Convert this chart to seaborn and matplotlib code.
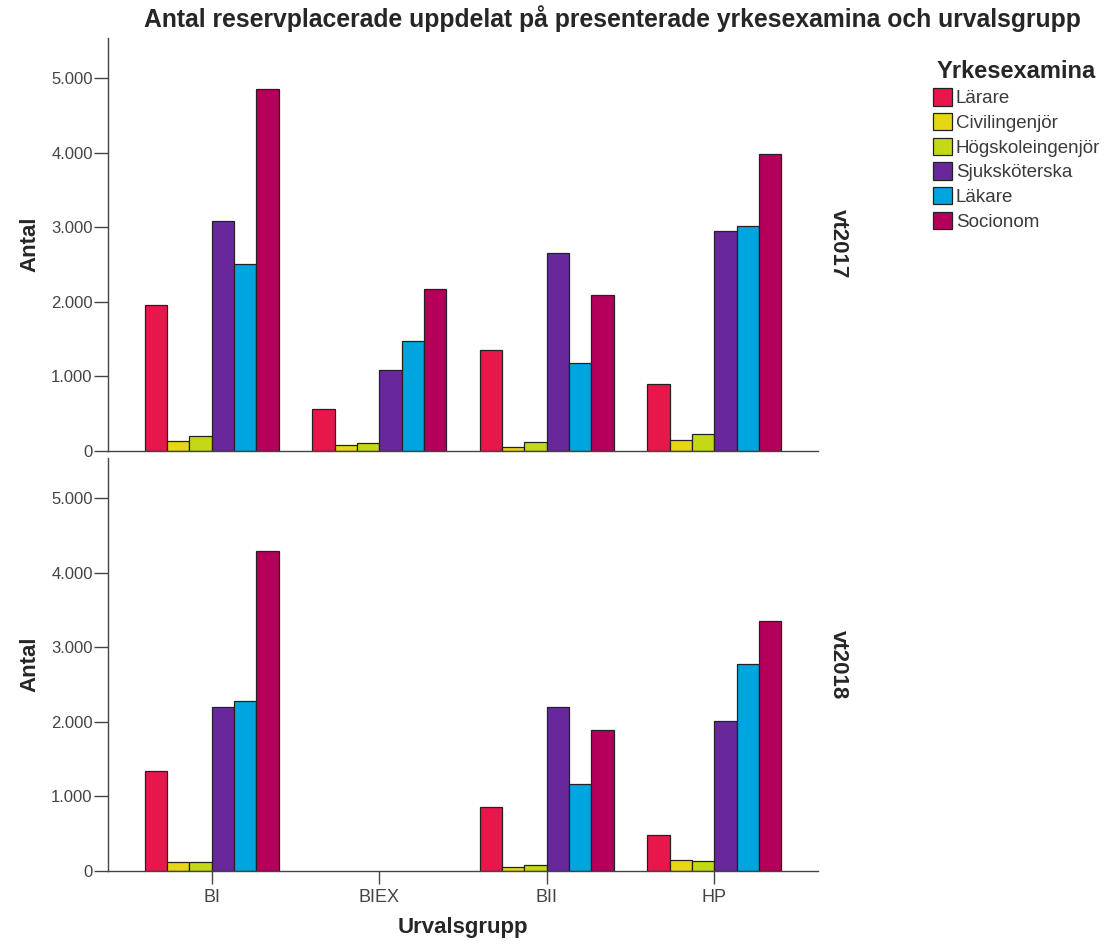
import numpy as np
import pandas as pd
import matplotlib
matplotlib.use("Agg")
import matplotlib.pyplot as plt
from matplotlib.ticker import FuncFormatter
import seaborn as sns

# data
grupper = ["BI", "BIEX", "BII", "HP"]
yrken = ["Lärare", "Civilingenjör", "Högskoleingenjör", "Sjuksköterska", "Läkare", "Socionom"]
terminer = ["vt2017", "vt2018"]

# rows = urvalsgrupp, cols = yrke
vt2017 = [
    [1955, 134, 196, 3080, 2509, 4853],
    [567, 80, 112, 1080, 1482, 2174],
    [1353, 58, 116, 2656, 1179, 2089],
    [893, 152, 223, 2955, 3013, 3987],
]
vt2018 = [
    [1341, 126, 126, 2206, 2274, 4287],
    [np.nan, np.nan, np.nan, np.nan, np.nan, np.nan],
    [852, 58, 76, 2197, 1170, 1897],
    [489, 143, 139, 2018, 2776, 3350],
]

farger = ["#E8174B", "#E6D615", "#C5D816", "#68279B", "#00A5DF", "#B5005B"]

rows = []
for termin, tab in zip(terminer, [vt2017, vt2018]):
    for g, vals in zip(grupper, tab):
        for y, v in zip(yrken, vals):
            rows.append({"Termin": termin, "Urvalsgrupp": g, "Yrkesexamina": y, "Antal": v})
df = pd.DataFrame(rows).dropna()

sns.set_style("white")
plt.rcParams["font.family"] = ["Liberation Sans", "DejaVu Sans"]

W, H = 1116, 946
fig = plt.figure(figsize=(W / 100, H / 100), dpi=100)

def px_axes(x0, x1, y0, y1):
    return fig.add_axes([x0 / W, 1 - y1 / H, (x1 - x0) / W, (y1 - y0) / H])

ax_top = px_axes(108, 818, 38, 451)
ax_bot = px_axes(108, 818, 458, 871)

fmt = FuncFormatter(lambda v, p: f"{int(v):,}".replace(",", "."))

for ax, termin in zip([ax_top, ax_bot], terminer):
    sns.barplot(data=df[df.Termin == termin], x="Urvalsgrupp", y="Antal",
                hue="Yrkesexamina", order=grupper, hue_order=yrken,
                palette=farger, edgecolor="#222222", linewidth=0.9,
                width=0.8, saturation=1, ax=ax)
    ax.set_xlim(-0.62, 3.62)
    ax.set_ylim(0, 5540)
    ax.set_yticks(range(0, 6000, 1000))
    ax.yaxis.set_major_formatter(fmt)
    ax.tick_params(axis="y", length=10, width=1, color="#444444", labelsize=12,
                   labelcolor="#444444", left=True, pad=1)
    ax.tick_params(axis="x", length=9, width=1, color="#444444", labelsize=13,
                   labelcolor="#444444", bottom=True, pad=4)
    for s in ["top", "right"]:
        ax.spines[s].set_visible(False)
    for s in ["left", "bottom"]:
        ax.spines[s].set_color("#444444")
        ax.spines[s].set_linewidth(1)
    ax.set_ylabel("Antal", fontsize=16, fontweight="bold", labelpad=8)
    ax.get_legend().remove()

ax_top.set_xlabel("")
ax_top.tick_params(axis="x", bottom=False, labelbottom=False)
ax_bot.set_xlabel("Urvalsgrupp", fontsize=16, fontweight="bold", labelpad=8)

# row labels
for termin, yc in zip(terminer, [244, 665]):
    fig.text(838 / W, 1 - yc / H, termin, rotation=270, fontsize=16,
             fontweight="bold", ha="center", va="center")

fig.text(612 / W, 1 - 19 / H,
         "Antal reservplacerade uppdelat på presenterade yrkesexamina och urvalsgrupp",
         fontsize=17.8, fontweight="bold", ha="center", va="center")

handles, labels = ax_top.get_legend_handles_labels()
leg = fig.legend(handles, labels, title="Yrkesexamina", loc="upper left",
                 bbox_to_anchor=(925 / W, 1 - 52 / H), frameon=False,
                 fontsize=13.5, title_fontsize=17, handlelength=1.05, handleheight=1.05,
                 handletextpad=0.2, labelspacing=0.3, borderaxespad=0)
leg.get_title().set_fontweight("bold")
for t in leg.get_texts():
    t.set_color("#3a3a3a")

fig.savefig("out.png", dpi=100)
